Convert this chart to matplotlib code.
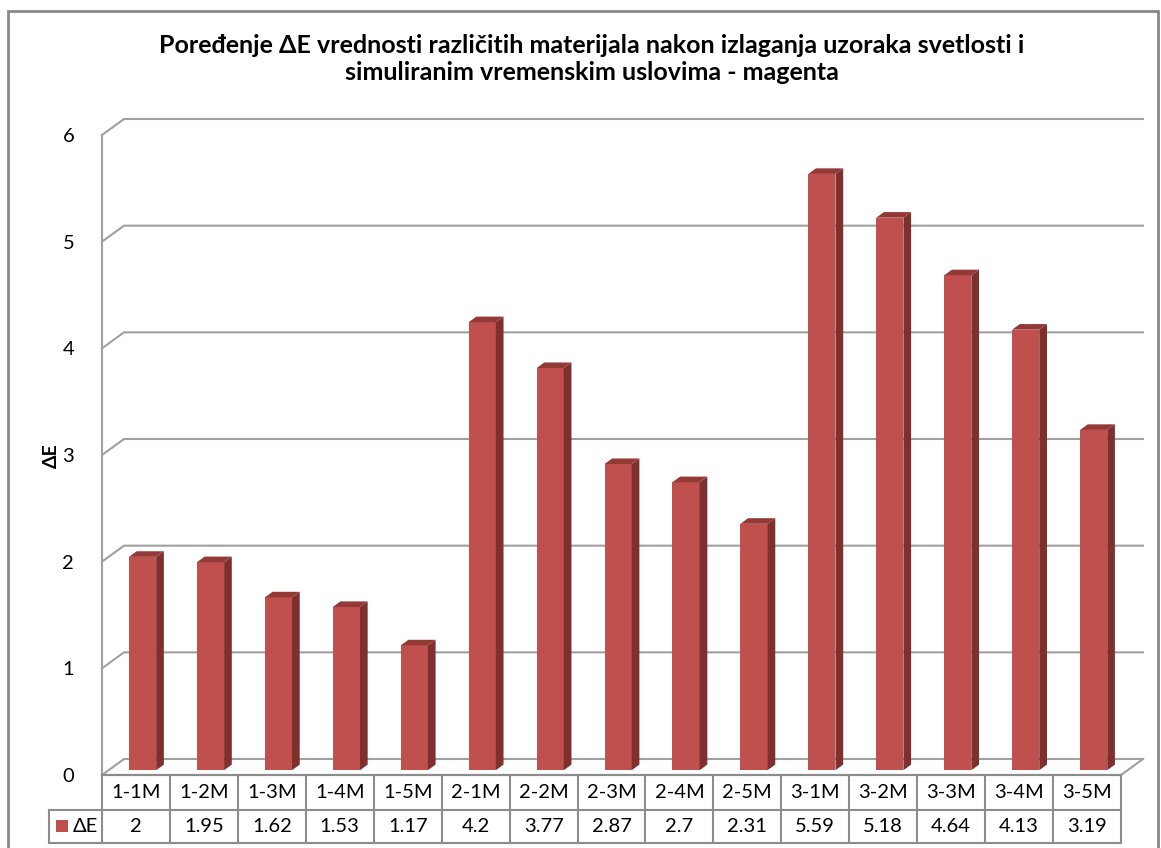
import numpy as np
import matplotlib.pyplot as plt
from matplotlib.patches import Polygon, Rectangle

categories = ['1-1M', '1-2M', '1-3M', '1-4M', '1-5M',
              '2-1M', '2-2M', '2-3M', '2-4M', '2-5M',
              '3-1M', '3-2M', '3-3M', '3-4M', '3-5M']
delta_e = [2, 1.95, 1.62, 1.53, 1.17, 4.2, 3.77, 2.87, 2.7, 2.31,
           5.59, 5.18, 4.64, 4.13, 3.19]
y_ticks = [0, 1, 2, 3, 4, 5, 6]
series_name = 'ΔE'
title = ('Poređenje ΔE vrednosti različitih materijala nakon izlaganja uzoraka svetlosti i\n'
         'simuliranim vremenskim uslovima - magenta')

plt.rcParams['font.family'] = ['Lato', 'DejaVu Sans']

W, H = 1161, 848
fig = plt.figure(figsize=(W / 100, H / 100), dpi=100)
fig.patch.set_facecolor('white')

# front plane of the 3d box
ax = fig.add_axes([102 / W, (H - 775) / H, 1019 / W, 640 / H])
ax.set_xlim(-0.5, len(categories) - 0.5)
ax.set_ylim(0, 6)
ax.patch.set_alpha(0)
for s in ax.spines.values():
    s.set_visible(False)
ax.set_xticks([])
ax.set_yticks(y_ticks)
ax.tick_params(axis='y', length=0, pad=20, labelsize=14.5)

# depth of the box in data units
dx, dy = 0.324, 0.15
grid_c = '#a0a0a0'
xl, xr = -0.5, len(categories) - 0.5

for t in y_ticks:
    ax.plot([xl, xl + dx, xr + dx], [t, t + dy, t + dy], color=grid_c, lw=1.5,
            clip_on=False, zorder=1)
ax.plot([xl, xl], [0, 6], color=grid_c, lw=1.5, clip_on=False, zorder=1)
# floor
ax.plot([xl, xr, xr + dx], [0, 0, dy], color=grid_c, lw=1.5, clip_on=False, zorder=1)

# bars
w = 0.4
f0, f1 = 0.3, 0.65
ox, oy = (f1 - f0) * dx, (f1 - f0) * dy
for i, v in enumerate(delta_e):
    x0 = i - w / 2 + f0 * dx
    x1 = x0 + w
    y0 = f0 * dy
    front = [(x0, y0), (x1, y0), (x1, v + y0), (x0, v + y0)]
    side = [(x1, y0), (x1 + ox, y0 + oy), (x1 + ox, v + y0 + oy), (x1, v + y0)]
    top = [(x0, v + y0), (x1, v + y0), (x1 + ox, v + y0 + oy), (x0 + ox, v + y0 + oy)]
    ax.add_patch(Polygon(front, closed=True, facecolor='#C0504D', edgecolor='none',
                         clip_on=False, zorder=3))
    ax.add_patch(Polygon(side, closed=True, facecolor='#7D302E', edgecolor='none',
                         clip_on=False, zorder=3))
    ax.add_patch(Polygon(top, closed=True, facecolor='#933936', edgecolor='none',
                         clip_on=False, zorder=3))

# data table
tab_c = '#8c8c8c'
r0, r1, r2 = 0, -35 / 106.67, -68 / 106.67
xleg = -1.28
ax.plot([xl, xr], [r0, r0], color=tab_c, lw=1.5, clip_on=False)
ax.plot([xleg, xr], [r1, r1], color=tab_c, lw=1.5, clip_on=False)
ax.plot([xleg, xr], [r2, r2], color=tab_c, lw=1.5, clip_on=False)
for k in range(len(categories) + 1):
    ax.plot([xl + k, xl + k], [r0, r2], color=tab_c, lw=1.5, clip_on=False)
ax.plot([xleg, xleg], [r1, r2], color=tab_c, lw=1.5, clip_on=False)

for i, (c, v) in enumerate(zip(categories, delta_e)):
    ax.text(i, (r0 + r1) / 2, c, ha='center', va='center', fontsize=14.5)
    ax.text(i, (r1 + r2) / 2, f'{v:g}', ha='center', va='center', fontsize=14.5)

ax.add_patch(Rectangle((-1.177, -0.534), 0.177, 0.1125, facecolor='#C0504D',
                       edgecolor='none', clip_on=False))
ax.text(-0.93, (r1 + r2) / 2, series_name, ha='left', va='center', fontsize=14.5)

# axis title and chart title
fig.text(51 / W, 1 - 456 / H, series_name, rotation=90, ha='center', va='center',
         fontsize=14, fontweight='bold')
fig.text(592 / W, 1 - 59 / H, title, ha='center', va='center', fontsize=18,
         fontweight='bold', linespacing=1.22)

# chart border
fig.add_artist(Rectangle((8 / W, -0.1), (1158 - 8) / W, (H - 11) / H + 0.1,
                         transform=fig.transFigure, fill=False,
                         edgecolor='#888888', lw=2))

fig.savefig('out.png', dpi=100)
